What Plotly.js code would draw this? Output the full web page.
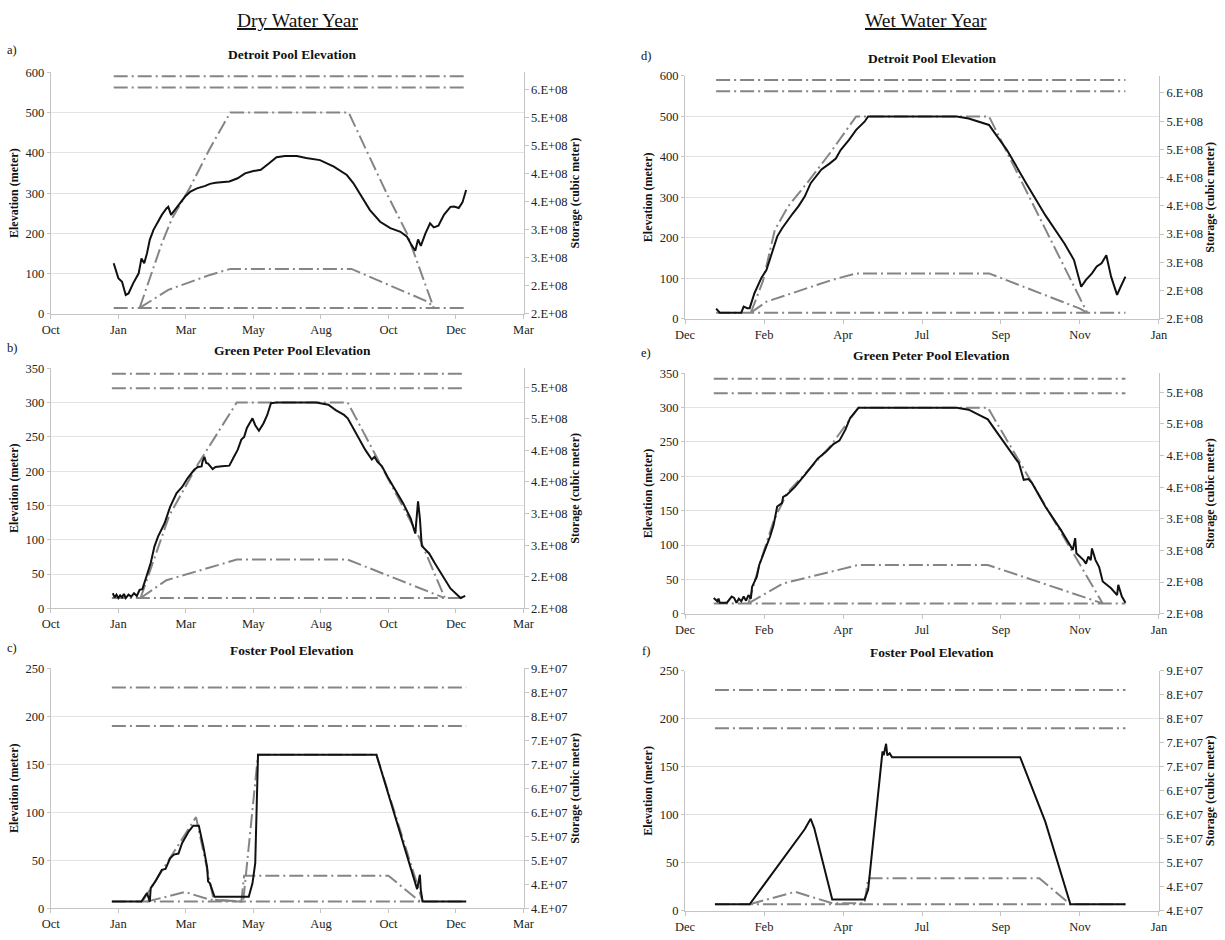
<!DOCTYPE html>
<html>
<head>
<meta charset="utf-8">
<script src="https://cdn.plot.ly/plotly-3.0.1.min.js"></script>
<style>html,body{margin:0;padding:0;background:#fff}#chart{width:1225px;height:940px}</style>
</head>
<body>
<div id="chart"></div>
<script>
// ---------- tick labels ----------
const dryMonthLabels = ['Oct','Jan','Mar','May','Aug','Oct','Dec','Mar'];
const wetMonthLabels = ['Dec','Feb','Apr','Jul','Sep','Nov','Jan'];
const dryTickDays = 73;   // day spacing between dry-year month ticks
const wetTickDays = 66;   // day spacing between wet-year month ticks

const detroitStorageLabels = ['2.E+08','2.E+08','3.E+08','3.E+08','4.E+08','4.E+08','5.E+08','5.E+08','6.E+08'];
const greenPeterStorageLabels = ['2.E+08','2.E+08','3.E+08','3.E+08','4.E+08','4.E+08','5.E+08','5.E+08'];
const fosterStorageLabels = ['4.E+07','4.E+07','5.E+07','5.E+07','6.E+07','6.E+07','7.E+07','7.E+07','8.E+07','8.E+07','9.E+07'];

// ---------- reservoir levels (meter) ----------
const detroitLevels = [590, 562, 15];
const greenPeterLevels = [342, 321, 15];
const fosterLevels = [230, 190, 7];

// ---------- a) Detroit, dry year ----------
const detDrySpan = [68, 449];
const detDryDays = [68,73,77,81,84,89,95,98,101,104,107,111,115,120,125,127,130,134,140,145,151,158,167,172,178,193,202,210,219,227,236,244,253,266,276,291,306,320,327,336,345,356,367,378,385,390,394,397,400,405,410,414,419,425,432,436,441,445,449];
const detDryElev = [126,89,80,47,51,76,101,138,126,151,184,209,225,246,262,266,246,258,275,291,304,312,318,323,326,329,337,349,355,358,374,389,392,392,387,382,366,345,325,291,258,229,213,204,192,171,157,185,169,200,225,215,219,246,266,267,263,277,308];
const detDryRuleDays = [96,120,131,150,172,194,322,363,385,414];
const detDryRuleElev = [15,175,237,312,411,500,500,300,200,15];
const detDryLowDays = [96,127,172,194,325,408,414];
const detDryLowElev = [15,60,97,112,112,30,15];

// ---------- b) Green Peter, dry year ----------
const gpDrySpan = [66, 448];
const gpDryDays = [67,69,71,73,75,77,79,81,84,87,90,93,96,99,104,108,112,116,123,129,136,142,148,155,159,163,164,166,168,170,175,178,185,193,198,202,206,209,212,215,218,221,225,230,234,238,244,287,300,308,317,321,328,334,340,347,350,353,358,364,372,381,389,394,397,399,401,409,415,424,432,443,448];
const gpDryElev = [22,16,20,15,19,16,21,15,20,17,22,18,27,28,49,66,90,105,124,148,168,177,190,202,206,207,214,221,212,211,203,206,207,208,221,231,246,250,263,271,277,267,259,270,282,299,300,300,297,289,282,277,260,246,231,217,221,214,207,192,173,153,131,109,156,131,91,80,66,46,29,15,18];
const gpDryRuleDays = [97,128,159,201,321,398,426];
const gpDryRuleElev = [15,135,210,300,300,104,15];
const gpDryLowDays = [97,125,201,321,424];
const gpDryLowElev = [15,41,71,71,16];

// ---------- c) Foster, dry year ----------
const fosDrySpan = [66, 449];
const fosDryDays = [66,98,102,104,107,108,113,120,124,129,133,138,142,149,154,160,165,169,170,172,177,214,218,221,224,352,396,399,400,402,449];
const fosDryElev = [7,7,13,16,7,21,28,40,41,52,56,57,68,80,86,86,64,43,28,26,12,12,26,47,160,160,20,35,19,7,7];
const fosDryRuleDays = [99,157,176,208,224,352,402];
const fosDryRuleElev = [7,95,9,7,160,160,7];
const fosDryLowDays = [104,145,172,206,209,365,399];
const fosDryLowElev = [7,17,9,7,34,34,7];

// ---------- d) Detroit, wet year ----------
const detWetSpan = [26, 368];
const detWetDays = [26,29,47,49,52,54,58,61,64,68,71,74,77,81,85,90,95,100,105,110,114,121,126,130,137,143,150,153,227,237,246,254,259,269,285,301,317,325,331,335,340,344,348,352,356,361,364,368];
const detWetElev = [25,15,15,30,26,26,63,83,102,120,149,174,203,223,240,260,279,302,335,355,369,384,396,417,442,467,487,500,500,495,487,479,458,417,335,256,186,145,79,96,112,129,137,157,104,59,79,104];
const detWetRuleDays = [55,65,75,86,104,121,143,254,336];
const detWetRuleElev = [15,92,219,277,343,409,500,500,15];
const detWetLowDays = [55,68,123,143,254,330,336];
const detWetLowElev = [15,42,96,112,112,25,15];

// ---------- e) Green Peter, wet year ----------
const gpWetSpan = [24, 368];
const gpWetDays = [24,27,28,29,35,39,41,43,45,47,49,51,53,55,56,60,62,66,71,74,77,81,82,85,92,101,111,118,124,129,134,138,142,145,227,237,246,253,259,269,279,283,287,290,301,314,324,326,327,333,335,337,339,340,343,346,349,356,361,362,365,368];
const gpWetElev = [23,18,22,16,16,25,23,16,22,18,25,19,27,22,39,54,71,88,112,129,156,161,170,173,185,204,226,236,247,252,268,285,294,300,300,297,289,283,268,243,219,195,196,190,156,122,93,110,88,78,73,83,78,95,78,68,47,37,27,42,25,16];
const gpWetRuleDays = [53,62,74,85,121,145,253,349];
const gpWetRuleElev = [15,70,135,175,243,300,300,15];
const gpWetLowDays = [53,82,145,253,349];
const gpWetLowElev = [15,44,71,71,15];

// ---------- f) Foster, wet year ----------
const fosWetSpan = [25, 368];
const fosWetDays = [25,54,100,105,108,123,150,153,165,166,168,169,171,173,280,301,322,368];
const fosWetElev = [7,7,85,96,86,12,12,22,166,162,174,162,164,160,160,93,7,7];
const fosWetLowDays = [54,92,123,150,153,296,322];
const fosWetLowElev = [7,20,8,8,34,34,7];

// ---------- styling ----------
const FONT = 'Liberation Serif, Times New Roman, serif';
const BLACK = '#111111';
const GRAY = '#858585';
const DASH = '14px,4px,2px,4px';
const AXIS_GRAY = '#c4c4c4';

const panels = [
  {n:1, col:'dry', xDom:[0.04147,0.42735], yDom:[0.66596,0.92309], yMax:600, yStep:100,
   sRange:[2.0e8,6.30e8], sStart:2.0e8, sStep:5e7, sLabels:detroitStorageLabels,
   levels:detroitLevels, span:detDrySpan, rule:[detDryRuleDays,detDryRuleElev], low:[detDryLowDays,detDryLowElev], obs:[detDryDays,detDryElev]},
  {n:2, col:'dry', xDom:[0.04147,0.42735], yDom:[0.35287,0.60819], yMax:350, yStep:50,
   sRange:[2.0e8,5.80e8], sStart:2.0e8, sStep:5e7, sLabels:greenPeterStorageLabels,
   levels:greenPeterLevels, span:gpDrySpan, rule:[gpDryRuleDays,gpDryRuleElev], low:[gpDryLowDays,gpDryLowElev], obs:[gpDryDays,gpDryElev]},
  {n:3, col:'dry', xDom:[0.04147,0.42735], yDom:[0.03372,0.28904], yMax:250, yStep:50,
   sRange:[4.0e7,9.0e7], sStart:4.0e7, sStep:5e6, sLabels:fosterStorageLabels,
   levels:fosterLevels, span:fosDrySpan, rule:[fosDryRuleDays,fosDryRuleElev], low:[fosDryLowDays,fosDryLowElev], obs:[fosDryDays,fosDryElev]},
  {n:4, col:'wet', xDom:[0.5592,0.9461], yDom:[0.66096,0.91915], yMax:600, yStep:100,
   sRange:[2.0e8,6.30e8], sStart:2.0e8, sStep:5e7, sLabels:detroitStorageLabels,
   levels:detroitLevels, span:detWetSpan, rule:[detWetRuleDays,detWetRuleElev], low:[detWetLowDays,detWetLowElev], obs:[detWetDays,detWetElev]},
  {n:5, col:'wet', xDom:[0.5592,0.9461], yDom:[0.34713,0.60287], yMax:350, yStep:50,
   sRange:[2.0e8,5.80e8], sStart:2.0e8, sStep:5e7, sLabels:greenPeterStorageLabels,
   levels:greenPeterLevels, span:gpWetSpan, rule:[gpWetRuleDays,gpWetRuleElev], low:[gpWetLowDays,gpWetLowElev], obs:[gpWetDays,gpWetElev]},
  {n:6, col:'wet', xDom:[0.5592,0.9461], yDom:[0.03085,0.28649], yMax:250, yStep:50,
   sRange:[4.0e7,9.0e7], sStart:4.0e7, sStep:5e6, sLabels:fosterStorageLabels,
   levels:fosterLevels, span:fosWetSpan, rule:null, low:[fosWetLowDays,fosWetLowElev], obs:[fosWetDays,fosWetElev]}
];

const traces = [];
const layout = {
  width:1225, height:940,
  margin:{l:0,r:0,t:0,b:0},
  paper_bgcolor:'#ffffff', plot_bgcolor:'#ffffff',
  showlegend:false,
  font:{family:FONT, color:'#222'},
  annotations:[]
};

function guide(x, y, xa, ya) {
  return {type:'scatter', mode:'lines', x:x, y:y, xaxis:xa, yaxis:ya,
    line:{color:GRAY, width:2, dash:DASH}, hoverinfo:'skip', showlegend:false};
}

panels.forEach(p => {
  const sfx = p.n === 1 ? '' : String(p.n);
  const xa = 'x' + sfx, ya = 'y' + sfx, yr = 'y' + (p.n + 6);
  const labels = p.col === 'dry' ? dryMonthLabels : wetMonthLabels;
  const step = p.col === 'dry' ? dryTickDays : wetTickDays;
  const tickvals = labels.map((_, i) => i * step);

  // horizontal reservoir levels
  p.levels.forEach(lv => traces.push(guide(p.span, p.span.map(() => lv), xa, ya)));
  if (p.rule) traces.push(guide(p.rule[0], p.rule[1], xa, ya));
  traces.push(guide(p.low[0], p.low[1], xa, ya));
  // pool elevation
  traces.push({type:'scatter', mode:'lines', x:p.obs[0], y:p.obs[1], xaxis:xa, yaxis:ya,
    line:{color:BLACK, width:2}, showlegend:false});
  // anchor trace for the storage axis
  traces.push({type:'scatter', mode:'lines', x:[null], y:[null], xaxis:xa, yaxis:yr,
    hoverinfo:'skip', showlegend:false});

  layout['xaxis' + sfx] = {
    domain:p.xDom, anchor:ya, range:[0, (labels.length - 1) * step],
    tickmode:'array', tickvals:tickvals, ticktext:labels,
    showgrid:false, zeroline:false, showline:true, linecolor:AXIS_GRAY, linewidth:1,
    ticks:'outside', ticklen:4, tickcolor:AXIS_GRAY,
    tickfont:{family:FONT, size:12.5, color:'#222'}, automargin:false, fixedrange:true
  };
  layout['yaxis' + sfx] = {
    domain:p.yDom, anchor:xa, range:[0, p.yMax], dtick:p.yStep, tick0:0,
    showgrid:true, gridcolor:'#e3e3e3', gridwidth:1, zeroline:false,
    showline:true, linecolor:AXIS_GRAY, linewidth:1,
    ticks:'outside', ticklen:3, tickcolor:AXIS_GRAY,
    tickfont:{family:FONT, size:12.5, color:'#222'},
    title:{text:'<b>Elevation (meter)</b>', font:{family:FONT, size:12, color:'#111'}, standoff:4},
    automargin:false, fixedrange:true
  };
  const sVals = p.sLabels.map((_, i) => p.sStart + i * p.sStep);
  layout['yaxis' + (p.n + 6)] = {
    overlaying:ya, side:'right', anchor:xa, range:p.sRange,
    tickmode:'array', tickvals:sVals, ticktext:p.sLabels,
    showgrid:false, zeroline:false, showline:true, linecolor:AXIS_GRAY, linewidth:1,
    ticks:'outside', ticklen:4, tickcolor:AXIS_GRAY,
    tickfont:{family:FONT, size:12.5, color:'#222'},
    title:{text:'<b>Storage (cubic meter)</b>', font:{family:FONT, size:12, color:'#111'}, standoff:3},
    automargin:false, fixedrange:true
  };
});

// headers, panel titles, panel letters
function ann(text, x, y, size, bold, extra) {
  const a = {text: bold ? '<b>' + text + '</b>' : text, x:x, y:y, xref:'paper', yref:'paper',
    xanchor:'center', yanchor:'middle', showarrow:false,
    font:Object.assign({family:FONT, size:size, color:'#111'}, extra || {})};
  layout.annotations.push(a);
}
ann('Dry Water Year', 0.2433, 0.9787, 19.5, false, {lineposition:'under'});
ann('Wet Water Year', 0.7559, 0.9787, 19.5, false, {lineposition:'under'});

const panelTitles = ['Detroit Pool Elevation','Green Peter Pool Elevation','Foster Pool Elevation',
                     'Detroit Pool Elevation','Green Peter Pool Elevation','Foster Pool Elevation'];
const titleX = [0.2384,0.2384,0.2384,0.7608,0.7608,0.7608];
const titleY = [0.9422,0.6269,0.3078,0.9380,0.6216,0.3056];
panelTitles.forEach((t, i) => ann(t, titleX[i], titleY[i], 13.5, true));

const panelLetters = ['a)','b)','c)','d)','e)','f)'];
const letterX = [0.0098,0.0098,0.0098,0.5273,0.5273,0.5273];
const letterY = [0.9468,0.6298,0.3106,0.9404,0.6245,0.3074];
panelLetters.forEach((t, i) => ann(t, letterX[i], letterY[i], 12.5, false));

Plotly.newPlot('chart', traces, layout, {displayModeBar:false, staticPlot:true});
</script>
</body>
</html>
